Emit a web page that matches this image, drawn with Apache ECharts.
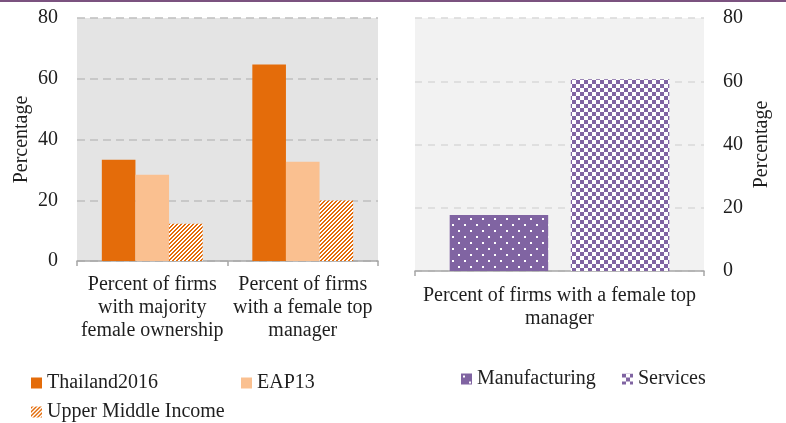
<!DOCTYPE html>
<html>
<head>
<meta charset="utf-8">
<script src="https://cdn.jsdelivr.net/npm/echarts@6/dist/echarts.min.js"></script>
<style>
html,body{margin:0;padding:0;background:#fff;}
#c{width:786px;height:423px;}
</style>
</head>
<body>
<div id="c"></div>
<script>
// ---- data ----
var leftCategories = ['Percent of firms\nwith majority\nfemale ownership', 'Percent of firms\nwith a female top\nmanager'];
var thailand2016 = [33.3, 64.7];
var eap13 = [28.4, 32.7];
var upperMiddleIncome = [12.3, 19.9];

var rightCategories = ['Percent of firms with a female top\nmanager'];
var manufacturing = [17.7];
var services = [60.6];

var yTicks = [0, 20, 40, 60, 80];

// ---- patterns ----
var ORANGE = '#e46c0a', PEACH = '#fac090', PURPLE = '#8064a2';
function makeCanvas(w, h, fn) {
  var c = document.createElement('canvas');
  c.width = w; c.height = h;
  var ctx = c.getContext('2d');
  fn(ctx, w, h);
  return c;
}
var stripeTile = makeCanvas(4, 4, function (ctx) {
  ctx.fillStyle = '#ffffff'; ctx.fillRect(0, 0, 4, 4);
  ctx.fillStyle = ORANGE;
  for (var x = 0; x < 4; x++) for (var y = 0; y < 4; y++) {
    if ((x + y) % 4 < 2) ctx.fillRect(x, y, 1, 1);
  }
});
var dotTile = makeCanvas(12, 12, function (ctx) {
  ctx.fillStyle = PURPLE; ctx.fillRect(0, 0, 12, 12);
  ctx.fillStyle = '#ffffff';
  ctx.fillRect(2, 2, 2, 2);
  ctx.fillRect(8, 8, 2, 2);
});
var checkTile = makeCanvas(8, 8, function (ctx) {
  ctx.fillStyle = '#ffffff'; ctx.fillRect(0, 0, 8, 8);
  ctx.fillStyle = PURPLE;
  ctx.fillRect(0, 0, 4, 4);
  ctx.fillRect(4, 4, 4, 4);
});

var FONT = 'Liberation Serif';
var FS = 20;
var TXT = '#1e1e1e';
var textStyle = { fontFamily: FONT, fontSize: FS, color: TXT };

function yAxis(grid, pos, splitColor, dash, nameGap) {
  return {
    type: 'value', gridIndex: grid, position: pos,
    min: yTicks[0], max: yTicks[yTicks.length - 1], interval: yTicks[1] - yTicks[0],
    name: 'Percentage', nameLocation: 'middle', nameRotate: 90, nameGap: nameGap,
    nameTextStyle: textStyle,
    axisLine: { show: false }, axisTick: { show: false },
    axisLabel: { fontFamily: FONT, fontSize: FS, color: TXT, margin: 19 },
    splitLine: { show: true, lineStyle: { color: splitColor, width: 1.5, type: dash } }
  };
}
function xAxis(grid, cats, margin) {
  return {
    type: 'category', gridIndex: grid, data: cats,
    axisLine: { show: true, lineStyle: { color: '#a6a6a6', width: 1.5 } },
    axisTick: { show: true, length: 5, lineStyle: { color: '#a6a6a6', width: 1.5 } },
    axisLabel: { fontFamily: FONT, fontSize: FS, color: TXT, margin: margin, lineHeight: 23, interval: 0 }
  };
}
function legend(name, left, top) {
  return {
    data: [name], left: left, top: top, padding: 0, itemWidth: 11, itemHeight: 11,
    icon: 'rect', itemGap: 0, textStyle: textStyle, selectedMode: false
  };
}

var chart = echarts.init(document.getElementById('c'), null, { renderer: 'canvas' });
chart.setOption({
  animation: false,
  backgroundColor: '#ffffff',
  graphic: [{ type: 'rect', left: 0, top: 0, shape: { width: 786, height: 2 }, style: { fill: '#7b527f' } }],
  grid: [
    { left: 77, right: 408, top: 18, bottom: 162, show: true, backgroundColor: '#e4e4e4', borderWidth: 0 },
    { left: 415, right: 82, top: 18, bottom: 152, show: true, backgroundColor: '#f2f2f2', borderWidth: 0 }
  ],
  xAxis: [xAxis(0, leftCategories, 12), xAxis(1, rightCategories, 13)],
  yAxis: [yAxis(0, 'left', '#bfbfbf', [8, 5], 45), yAxis(1, 'right', '#d9d9d9', [7, 6], 48)],
  legend: [
    legend('Thailand2016', 31, 373),
    legend('EAP13', 241, 373),
    legend('Upper Middle Income', 31, 402),
    legend('Manufacturing', 461, 369),
    legend('Services', 622, 369)
  ],
  series: [
    { name: 'Thailand2016', type: 'bar', xAxisIndex: 0, yAxisIndex: 0, data: thailand2016,
      barGap: 0, barCategoryGap: '33%', itemStyle: { color: ORANGE } },
    { name: 'EAP13', type: 'bar', xAxisIndex: 0, yAxisIndex: 0, data: eap13,
      barGap: 0, barCategoryGap: '33%', itemStyle: { color: PEACH } },
    { name: 'Upper Middle Income', type: 'bar', xAxisIndex: 0, yAxisIndex: 0, data: upperMiddleIncome,
      barGap: 0, barCategoryGap: '33%', itemStyle: { color: { image: stripeTile, repeat: 'repeat' } } },
    { name: 'Manufacturing', type: 'bar', xAxisIndex: 1, yAxisIndex: 1, data: manufacturing,
      barGap: '23%', barCategoryGap: '24%', itemStyle: { color: { image: dotTile, repeat: 'repeat' } } },
    { name: 'Services', type: 'bar', xAxisIndex: 1, yAxisIndex: 1, data: services,
      barGap: '23%', barCategoryGap: '24%', itemStyle: { color: { image: checkTile, repeat: 'repeat' } } }
  ]
});
</script>
</body>
</html>
